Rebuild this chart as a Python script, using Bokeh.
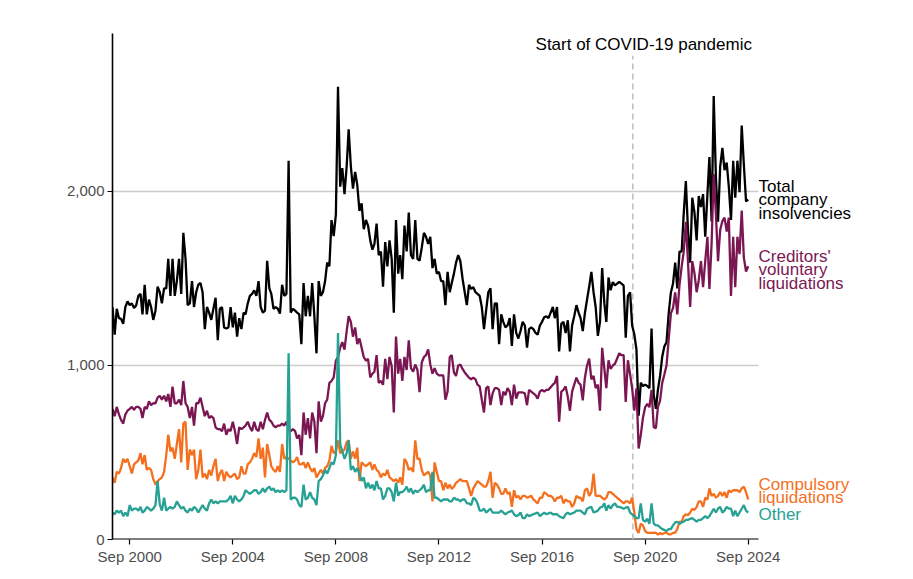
from datetime import datetime, timedelta
import pandas as pd
from bokeh.plotting import figure
from bokeh.models import Range1d, FixedTicker, NumeralTickFormatter, DatetimeTickFormatter, Label, ColumnDataSource
from bokeh.embed import file_html
from bokeh.resources import INLINE

# Monthly counts, Jan 2000 - Sep 2024
total = [
    1336,1177,1326,1272,1268,1240,1336,1368,1347,1357,1330,1345,  # 2000
    1400,1411,1294,1464,1294,1379,1336,1262,1315,1453,1421,1357,  # 2001
    1443,1443,1613,1400,1613,1400,1485,1613,1411,1762,1613,1347,  # 2002
    1357,1485,1336,1421,1464,1474,1421,1209,1336,1304,1262,1326,  # 2003
    1389,1145,1326,1336,1219,1213,1219,1336,1219,1304,1166,1272,  # 2004
    1209,1304,1294,1357,1400,1411,1432,1400,1485,1336,1304,1315,  # 2005
    1602,1443,1411,1326,1336,1326,1298,1464,1400,1411,2177,1304,  # 2006
    1326,1315,1304,1294,1123,1474,1283,1400,1283,1474,1283,1070,  # 2007
    1485,1400,1421,1485,1591,1570,1836,1743,1868,2602,2028,2134,  # 2008
    1985,2145,2357,2145,2017,2113,2038,1889,1932,1783,1836,1804,  # 2009
    1719,1666,1698,1815,1634,1655,1453,1709,1570,1719,1613,1304,  # 2010
    1836,1528,1634,1496,1804,1655,1879,1634,1613,1836,1613,1602,  # 2011
    1677,1762,1740,1698,1740,1560,1613,1528,1538,1485,1485,1347,  # 2012
    1538,1421,1474,1528,1591,1634,1600,1500,1421,1347,1464,1440,  # 2013
    1450,1421,1411,1400,1336,1209,1315,1421,1443,1209,1357,1357,  # 2014
    1123,1294,1251,1219,1230,1272,1113,1294,1187,1155,1198,1251,  # 2015
    1230,1102,1209,1219,1209,1187,1177,1230,1251,1277,1283,1272,  # 2016
    1304,1336,1272,1336,1081,1240,1251,1187,1260,1081,1230,1283,  # 2017
    1347,1304,1272,1198,1300,1379,1453,1538,1421,1336,1170,1250,  # 2018
    1560,1357,1251,1506,1432,1480,1460,1470,1480,1470,1460,1160,  # 2019
    1400,1420,1230,1178,1092,711,901,882,890,882,870,1213,        # 2020
    830,751,860,940,1050,1110,1134,1300,1420,1470,1591,1443,      # 2021
    1655,1655,1868,2060,1783,1591,1964,1880,1719,1974,1911,1985,  # 2022
    1740,1985,2198,1828,2549,2081,1826,2145,2251,2123,2166,2028,  # 2023
    1836,2177,1964,2177,1996,2379,2155,1943,1953,                 # 2024
]
cvl = [
    751,709,762,719,687,666,719,740,751,762,745,762,
    762,751,698,762,751,794,772,783,783,815,826,804,
    826,794,836,762,879,783,783,804,772,911,783,762,
    698,762,655,783,783,815,762,709,740,698,709,698,
    645,634,634,623,666,602,634,623,677,623,549,645,
    634,645,655,677,645,623,677,634,623,677,634,687,
    730,687,677,655,645,655,655,666,655,677,634,623,
    634,623,581,602,485,730,602,698,581,730,677,496,
    794,677,709,783,804,900,911,932,1028,1049,1102,1134,
    1091,1198,1283,1251,1166,1219,1123,1155,1102,1049,1028,1038,
    932,953,964,1060,900,911,889,1038,921,1049,996,730,
    1166,953,1038,911,1049,974,1145,985,964,1006,974,847,
    1017,1049,1060,1092,1006,953,985,953,943,943,943,804,
    850,1049,1060,960,940,1000,1006,980,960,945,930,921,
    930,920,890,880,804,730,870,880,772,840,870,870,
    860,772,850,830,870,850,772,890,810,845,845,845,
    840,772,860,850,840,830,810,850,860,850,860,860,
    875,890,900,940,677,850,860,880,820,740,850,890,
    930,900,890,800,930,1000,1040,920,940,870,890,740,
    1102,980,870,1030,980,1000,1010,1040,1070,1060,1060,790,
    1030,950,868,741,868,523,600,700,760,780,760,860,
    645,640,760,800,900,950,1000,1150,1300,1330,1420,1294,
    1464,1570,1650,1826,1600,1336,1600,1530,1421,1490,1600,1450,
    1600,1740,1440,1700,2100,1870,1600,1780,1830,1850,1770,1850,
    1400,1740,1450,1740,1640,1890,1620,1540,1570,
]
compulsory = [
    357,326,389,379,411,464,443,464,421,379,432,443,
    453,496,432,485,400,411,400,347,315,336,347,357,
    389,485,602,506,528,464,549,634,443,666,677,400,
    517,485,517,347,400,517,357,379,347,400,368,421,
    464,336,379,400,336,389,368,357,368,379,347,357,
    421,379,379,432,443,464,496,474,581,464,528,357,
    549,485,421,400,389,421,389,549,464,474,464,453,
    443,453,474,432,432,443,411,443,411,389,411,357,
    379,400,379,411,421,453,538,496,506,570,496,506,
    517,560,570,464,506,464,528,336,443,432,421,432,
    443,400,432,400,389,357,379,368,400,357,347,336,
    347,326,357,315,464,443,400,411,389,570,464,464,
    400,368,379,389,368,219,443,389,336,336,283,326,
    294,315,290,304,326,336,347,336,336,336,294,251,
    294,315,336,326,315,304,304,336,389,240,326,315,
    294,262,262,294,262,272,187,283,240,251,230,251,
    251,240,245,251,230,219,208,240,240,272,262,251,
    251,240,219,240,240,251,208,230,219,219,187,208,
    251,240,240,219,283,294,251,272,379,251,251,251,
    240,230,240,272,272,262,251,240,230,219,208,219,
    219,208,240,155,60,38,91,81,49,38,38,38,
    40,38,28,38,30,38,40,30,30,38,40,60,
    102,100,134,145,140,155,177,170,187,219,219,187,
    240,230,294,251,262,240,251,272,251,272,240,283,
    272,283,283,283,272,294,304,272,230,
]
other = [
    155,145,166,155,166,134,155,134,198,166,177,177,
    166,187,155,166,187,177,166,177,198,336,200,166,
    240,166,177,187,177,187,219,198,177,187,166,155,
    177,166,187,177,155,177,198,177,166,208,230,208,
    219,208,219,219,219,219,230,251,208,251,230,219,
    230,251,283,272,262,272,283,283,262,272,294,272,
    294,304,283,294,272,283,272,283,272,283,1070,230,
    240,240,230,198,187,315,230,240,272,240,230,198,
    336,347,368,400,379,411,443,432,485,1187,549,506,
    464,496,570,400,421,389,410,379,336,357,294,326,
    294,315,283,336,294,294,230,251,294,294,272,219,
    326,251,272,272,283,304,272,294,262,283,272,283,
    294,315,272,283,283,389,240,240,230,219,230,230,
    230,219,219,240,230,230,219,230,230,208,208,198,
    240,230,208,166,166,177,155,166,177,155,155,155,
    155,166,155,145,155,160,166,145,134,140,155,123,
    123,145,134,140,145,150,155,134,145,155,145,150,
    155,145,145,145,134,128,123,145,155,145,150,155,
    166,166,166,155,145,177,183,187,155,160,166,183,
    187,208,166,198,177,198,208,187,187,183,177,183,
    187,155,145,134,123,123,208,113,102,119,91,208,
    91,81,81,70,60,55,49,60,60,81,98,102,
    91,98,102,113,113,119,123,113,102,113,113,123,
    134,123,134,155,177,155,177,187,155,166,187,177,
    177,134,166,134,155,177,198,166,155,
]
dates = pd.date_range("2000-01-01", periods=len(total), freq="MS")

tick_years = [2000, 2004, 2008, 2012, 2016, 2020, 2024]
y_ticks = [0, 1000, 2000]
grid_values = [1000, 2000]
covid_date = datetime(2020, 3, 11)
covid_text = "Start of COVID-19 pandemic"

C_TOTAL = "#000000"
C_CVL = "#7a1753"
C_COMP = "#f4701f"
C_OTHER = "#27a194"
FONT = "Liberation Sans"

# geometry: frame spans x 112..896 px, the axis itself ends at 758 px
X0 = datetime(2000, 1, 1)
PX_PER_DAY = 618.5 / 8766.0
FRAME_W = 784
X_END = X0 + timedelta(days=FRAME_W / PX_PER_DAY)
AXIS_END = X0 + timedelta(days=646 / PX_PER_DAY)
PX_PER_UNIT = 0.174

src = ColumnDataSource(dict(date=dates, total=total, cvl=cvl, comp=compulsory, other=other))

p = figure(width=896 + 8, height=570, x_axis_type="datetime",
           x_range=Range1d(X0, X_END), y_range=Range1d(0, 2908),
           output_backend="svg", toolbar_location=None,
           min_border_left=112, min_border_right=8, min_border_top=33, min_border_bottom=31)
p.outline_line_color = None
p.xgrid.grid_line_color = None
p.ygrid.grid_line_color = None

# horizontal grid lines stopping where the axis stops
p.segment(x0=[X0] * len(grid_values), y0=grid_values, x1=[AXIS_END] * len(grid_values), y1=grid_values,
          line_color="#cccccc", line_width=1.5)

p.yaxis.ticker = FixedTicker(ticks=y_ticks)
p.yaxis.formatter = NumeralTickFormatter(format="0,0")
p.xaxis.ticker = FixedTicker(ticks=[datetime(y, 9, 1).timestamp() * 1000 for y in tick_years])
fmt = "%b %Y"
p.xaxis.formatter = DatetimeTickFormatter(years=fmt, months=fmt, days=fmt, hours=fmt, minutes=fmt,
                                          seconds=fmt, milliseconds=fmt, microseconds=fmt, hourmin=fmt, minsec=fmt)
for ax in (p.xaxis, p.yaxis):
    ax.axis_line_color = "black"
    ax.axis_line_width = 1.6
    ax.major_tick_line_color = "black"
    ax.major_tick_line_width = 1.2
    ax.major_tick_out = 5
    ax.major_tick_in = 0
    ax.minor_tick_line_color = None
    ax.major_label_text_font = FONT
    ax.major_label_text_font_size = "15px"
    ax.major_label_text_color = "#4d4d4d"
    ax.major_label_standoff = 3
p.xaxis.axis_line_color = None
# x axis baseline, only as long as the data span
p.segment(x0=[X0], y0=[0], x1=[AXIS_END], y1=[0], line_color="black", line_width=2.2)

p.segment(x0=[covid_date], y0=[0], x1=[covid_date], y1=[2780],
          line_color="#bdbdbd", line_width=1.5, line_dash="6 4")

p.line("date", "total", source=src, line_color=C_TOTAL, line_width=2.3)
p.line("date", "cvl", source=src, line_color=C_CVL, line_width=2.3)
p.line("date", "comp", source=src, line_color=C_COMP, line_width=2.3)
p.line("date", "other", source=src, line_color=C_OTHER, line_width=2.3)

p.add_layout(Label(x=datetime(2020, 8, 12), y=2822 + 4 / PX_PER_UNIT, text=covid_text, text_align="center",
                   text_baseline="alphabetic", text_font=FONT, text_font_size="17px", text_color="black"))

label_x = AXIS_END
labels = [
    (["Total", "company", "insolvencies"], 2000, C_TOTAL),
    (["Creditors'", "voluntary", "liquidations"], 1599, C_CVL),
    (["Compulsory", "liquidations"], 287, C_COMP),
    (["Other"], 113, C_OTHER),
]
lift = 5 / PX_PER_UNIT
step = 13.4 / PX_PER_UNIT
for lines, y0, col in labels:
    for i, t in enumerate(lines):
        p.add_layout(Label(x=label_x, y=y0 + lift - i * step, text=t, text_align="left",
                           text_baseline="alphabetic", text_font=FONT, text_font_size="17px",
                           text_color=col))

open("out.html", "w").write(file_html(p, INLINE))
